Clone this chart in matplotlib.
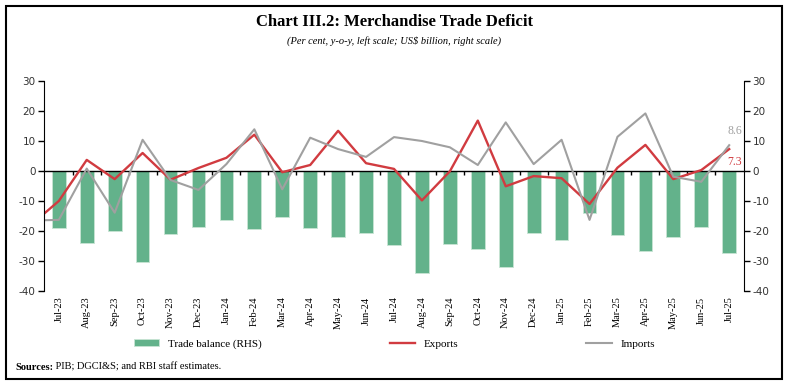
import matplotlib.pyplot as plt
from matplotlib.patches import Rectangle

plt.rcParams['axes.unicode_minus'] = False

# data
months = ['Jul-23', 'Aug-23', 'Sep-23', 'Oct-23', 'Nov-23', 'Dec-23', 'Jan-24',
          'Feb-24', 'Mar-24', 'Apr-24', 'May-24', 'Jun-24', 'Jul-24', 'Aug-24',
          'Sep-24', 'Oct-24', 'Nov-24', 'Dec-24', 'Jan-25', 'Feb-25', 'Mar-25',
          'Apr-25', 'May-25', 'Jun-25', 'Jul-25']
trade_balance = [-18.9, -23.9, -20.0, -30.3, -21.1, -18.7, -16.4, -19.4, -15.2,
                 -19.1, -21.9, -20.8, -24.7, -33.9, -24.2, -26.0, -31.9, -20.6,
                 -23.0, -14.1, -21.4, -26.6, -22.0, -18.7, -27.2]
exports = [-10.0, 3.7, -2.7, 6.0, -2.9, 1.0, 4.4, 12.1, -0.4, 2.0, 13.4, 2.6,
           0.7, -9.8, -0.1, 16.8, -5.1, -1.7, -2.4, -11.0, 1.1, 8.7, -2.7, 0.3, 7.3]
imports = [-16.3, 0.8, -13.9, 10.4, -3.0, -6.3, 2.3, 13.9, -6.1, 11.1, 7.3, 4.7,
           11.3, 10.0, 7.9, 2.0, 16.2, 2.3, 10.4, -16.3, 11.4, 19.2, -1.9, -3.6, 8.6]
# Jun-23 values: only the stub before the first month shows in the chart
exports_jun23 = -18.0
imports_jun23 = -16.5

GREEN = '#63b28b'
RED = '#d13b40'
GREY = '#a0a0a0'
SERIF = 'Liberation Serif'

fig = plt.figure(figsize=(7.89, 3.85), dpi=100)
ax = fig.add_axes([44 / 789, 94 / 385, 700 / 789, 210 / 385])
ax2 = ax.twinx()

x = list(range(len(months)))
bars = ax2.bar(x, trade_balance, width=0.49, color=GREEN, edgecolor='#c8e4d4',
               linewidth=0.6, label='Trade balance (RHS)')

ln_exp, = ax.plot([-1] + x, [exports_jun23] + exports, color=RED, lw=1.7,
                  label='Exports')
ln_imp, = ax.plot([-1] + x, [imports_jun23] + imports, color=GREY, lw=1.5,
                  label='Imports')
# lines (left scale) above the bars (right scale)
ax.set_zorder(ax2.get_zorder() + 1)
ax.patch.set_visible(False)

# last value labels
ax.annotate(f'{imports[-1]:.1f}', (x[-1], imports[-1]), xytext=(4, 10),
            textcoords='offset points', color=GREY, fontsize=8.5, family=SERIF,
            ha='center', va='center')
ax.annotate(f'{exports[-1]:.1f}', (x[-1], exports[-1]), xytext=(4, -9),
            textcoords='offset points', color=RED, fontsize=8.5, family=SERIF,
            ha='center', va='center')

for a in (ax, ax2):
    a.set_xlim(-0.53, 24.53)
    a.set_ylim(-40, 30)
    a.set_yticks(range(-40, 31, 10))
    a.tick_params(axis='y', direction='out', length=4, width=1,
                  labelsize=7.5, labelcolor='#333333', pad=2)
    for s in a.spines.values():
        s.set_visible(False)
ax.spines['left'].set_visible(True)
ax2.spines['right'].set_visible(True)

ax.set_xticks(x)
ax.set_xticklabels(months, rotation=90, fontsize=7.5, family=SERIF)
ax.tick_params(axis='x', length=0, pad=4)

# zero line with ticks between the months
zero = ax.secondary_xaxis(40 / 70)
zero.set_alignment('bottom')
zero.set_xticks([i + 0.5 for i in range(24)])
zero.set_xticklabels([])
zero.tick_params(axis='x', direction='out', length=3, width=1)
zero.spines['bottom'].set_linewidth(1)

fig.legend([bars, ln_exp, ln_imp],
           ['Trade balance (RHS)', 'Exports', 'Imports'],
           loc='center', bbox_to_anchor=(0.5, 41 / 385), ncol=3, frameon=False,
           columnspacing=11.5, handlelength=2.3, handleheight=0.5,
           prop={'family': SERIF, 'size': 8})

fig.text(0.5, 1 - 22.5 / 385, 'Chart III.2: Merchandise Trade Deficit',
         ha='center', va='center', fontsize=12, weight='bold', family=SERIF)
fig.text(0.5, 1 - 41 / 385, '(Per cent, y-o-y, left scale; US$ billion, right scale)',
         ha='center', va='center', fontsize=7.5, style='italic', family=SERIF)

# source note: bold label, then the rest placed right after it
src = fig.text(15 / 789, 1 - 370 / 385, 'Sources:', ha='left', va='baseline',
               fontsize=7.5, weight='bold', family=SERIF)
fig.add_artist(plt.Annotation(' PIB; DGCI&S; and RBI staff estimates.',
                              xy=(1, 0), xycoords=src, va='bottom', ha='left',
                              fontsize=7.5, family=SERIF))

# outer frame
fig.patches.append(Rectangle((6 / 789, 6 / 385), 776 / 789, 373 / 385,
                             transform=fig.transFigure, fill=False,
                             edgecolor='black', lw=1.5))

fig.savefig('out.png', dpi=100)
